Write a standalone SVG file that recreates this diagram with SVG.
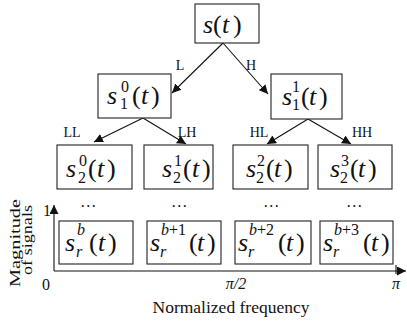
<svg xmlns="http://www.w3.org/2000/svg" width="407" height="325" viewBox="0 0 407 325">
<defs>
<style>
.box{fill:#fff;stroke:#222;stroke-width:1.1}
.m{font-family:"Liberation Serif",serif;font-size:26px;fill:#111}
.i{font-style:italic}
.sc{font-family:"Liberation Serif",serif;font-size:16px;fill:#111}
.lb{font-family:"Liberation Serif",serif;font-size:14px;fill:#111}
.ax{font-family:"Liberation Serif",serif;font-size:16px;fill:#111}
.vl{font-family:"Liberation Serif",serif;font-size:15px;fill:#111}
.ln{stroke:#111;stroke-width:1.1;fill:none}
.dots{font-family:"Liberation Serif",serif;font-size:16px;fill:#111;letter-spacing:1.5px}
</style>
<marker id="ah" viewBox="0 0 10 10" refX="10" refY="5" markerWidth="9" markerHeight="9" markerUnits="userSpaceOnUse" orient="auto">
<path d="M0,0 L10,5 L0,10 z" fill="#111"/>
</marker>
</defs>
<rect width="407" height="325" fill="#fff"/>

<g id="connectors">
<line class="ln" x1="223" y1="43" x2="172" y2="93" marker-end="url(#ah)"/>
<line class="ln" x1="223" y1="43" x2="268" y2="94" marker-end="url(#ah)"/>
<line class="ln" x1="143" y1="118" x2="94" y2="142" marker-end="url(#ah)"/>
<line class="ln" x1="143" y1="118" x2="186" y2="144" marker-end="url(#ah)"/>
<line class="ln" x1="308" y1="119" x2="267" y2="144" marker-end="url(#ah)"/>
<line class="ln" x1="308" y1="119" x2="351" y2="144" marker-end="url(#ah)"/>
<text class="lb" x="180" y="70" text-anchor="middle">L</text>
<text class="lb" x="251" y="70" text-anchor="middle">H</text>
<text class="lb" x="72" y="137" text-anchor="middle">LL</text>
<text class="lb" x="187" y="137" text-anchor="middle">LH</text>
<text class="lb" x="259" y="137" text-anchor="middle">HL</text>
<text class="lb" x="362" y="137" text-anchor="middle">HH</text>
</g>

<g id="n-root">
<rect class="box" x="195" y="4" width="64" height="39"/>
<text class="m" y="33"><tspan class="i" x="203">s</tspan><tspan x="213">(</tspan><tspan class="i" x="222">t</tspan><tspan x="233">)</tspan></text>
</g>

<g id="n-s10">
<rect class="box" x="98" y="74" width="73" height="44"/>
<text class="m" y="104"><tspan class="i" x="107">s</tspan><tspan x="132">(</tspan><tspan class="i" x="141">t</tspan><tspan x="151">)</tspan></text>
<text class="sc" x="121" y="92">0</text>
<text class="sc" x="120" y="109">1</text>
</g>

<g id="n-s11">
<rect class="box" x="271" y="74" width="71" height="45"/>
<text class="m" y="105"><tspan class="i" x="282">s</tspan><tspan x="301">(</tspan><tspan class="i" x="309">t</tspan><tspan x="319">)</tspan></text>
<text class="sc" x="292" y="92">1</text>
<text class="sc" x="292" y="110">1</text>
</g>

<g id="n-s20">
<rect class="box" x="57" y="145" width="75" height="44"/>
<text class="m" y="177"><tspan class="i" x="66">s</tspan><tspan x="88">(</tspan><tspan class="i" x="97">t</tspan><tspan x="107">)</tspan></text>
<text class="sc" x="79" y="166">0</text>
<text class="sc" x="78" y="183">2</text>
</g>

<g id="n-s21">
<rect class="box" x="144" y="145" width="69" height="44"/>
<text class="m" y="177"><tspan class="i" x="162">s</tspan><tspan x="183">(</tspan><tspan class="i" x="192">t</tspan><tspan x="202">)</tspan></text>
<text class="sc" x="174" y="166">1</text>
<text class="sc" x="173" y="183">2</text>
</g>

<g id="n-s22">
<rect class="box" x="233" y="145" width="75" height="44"/>
<text class="m" y="177"><tspan class="i" x="246">s</tspan><tspan x="266">(</tspan><tspan class="i" x="274">t</tspan><tspan x="284">)</tspan></text>
<text class="sc" x="257" y="166">2</text>
<text class="sc" x="256" y="183">2</text>
</g>

<g id="n-s23">
<rect class="box" x="318" y="145" width="74" height="44"/>
<text class="m" y="177"><tspan class="i" x="330">s</tspan><tspan x="350">(</tspan><tspan class="i" x="358">t</tspan><tspan x="368">)</tspan></text>
<text class="sc" x="341" y="166">3</text>
<text class="sc" x="340" y="183">2</text>
</g>

<g id="dots">
<text class="dots" x="89" y="207" text-anchor="middle">...</text>
<text class="dots" x="180" y="207" text-anchor="middle">...</text>
<text class="dots" x="272" y="207" text-anchor="middle">...</text>
<text class="dots" x="355" y="207" text-anchor="middle">...</text>
</g>

<g id="axes">
<line class="ln" x1="54" y1="271" x2="54" y2="205" marker-end="url(#ah)"/>
<line class="ln" x1="54" y1="271" x2="406" y2="271" marker-end="url(#ah)"/>
<line class="ln" x1="396" y1="265" x2="396" y2="274"/>
<text class="ax" x="47" y="216" text-anchor="middle">1</text>
<text class="ax" x="46" y="290" text-anchor="middle">0</text>
<text class="ax i" x="236" y="289" text-anchor="middle" font-size="18">π/2</text>
<text class="ax i" x="396" y="289" text-anchor="middle" font-size="18">π</text>
<text class="ax" x="231" y="313" text-anchor="middle" textLength="157" lengthAdjust="spacingAndGlyphs">Normalized frequency</text>
<text class="vl" transform="translate(20,243) rotate(-90)" text-anchor="middle" textLength="88" lengthAdjust="spacingAndGlyphs">Magnitude</text>
<text class="vl" transform="translate(32,240) rotate(-90)" text-anchor="middle" textLength="70" lengthAdjust="spacingAndGlyphs">of signals</text>
</g>

<g id="n-srb">
<rect class="box" x="59" y="221" width="74" height="43"/>
<text class="m" y="251"><tspan class="i" x="65">s</tspan><tspan x="89">(</tspan><tspan class="i" x="98">t</tspan><tspan x="108">)</tspan></text>
<text class="sc i" x="77" y="235">b</text>
<text class="sc i" x="76" y="257">r</text>
</g>

<g id="n-srb1">
<rect class="box" x="147" y="221" width="74" height="43"/>
<text class="m" y="251"><tspan class="i" x="150">s</tspan><tspan x="189">(</tspan><tspan class="i" x="197">t</tspan><tspan x="207">)</tspan></text>
<text class="sc" x="161" y="235"><tspan class="i">b</tspan>+1</text>
<text class="sc i" x="160" y="257">r</text>
</g>

<g id="n-srb2">
<rect class="box" x="235" y="221" width="76" height="43"/>
<text class="m" y="251"><tspan class="i" x="238">s</tspan><tspan x="278">(</tspan><tspan class="i" x="286">t</tspan><tspan x="296">)</tspan></text>
<text class="sc" x="249" y="235"><tspan class="i">b</tspan>+2</text>
<text class="sc i" x="248" y="257">r</text>
</g>

<g id="n-srb3">
<rect class="box" x="320" y="221" width="73" height="43"/>
<text class="m" y="251"><tspan class="i" x="323">s</tspan><tspan x="363">(</tspan><tspan class="i" x="371">t</tspan><tspan x="381">)</tspan></text>
<text class="sc" x="334" y="235"><tspan class="i">b</tspan>+3</text>
<text class="sc i" x="333" y="257">r</text>
</g>
</svg>
